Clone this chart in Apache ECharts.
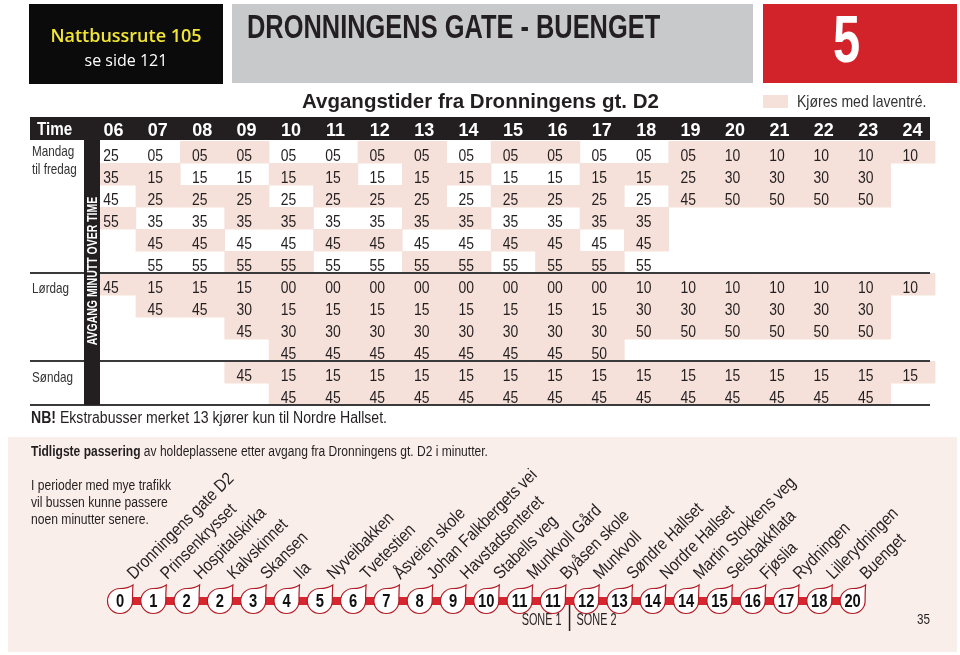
<!DOCTYPE html>
<html><head><meta charset="utf-8">
<script src="https://cdn.jsdelivr.net/npm/echarts@6/dist/echarts.min.js"></script>
<style>html,body{margin:0;padding:0;background:#fff}#c{width:960px;height:655px}</style>
</head><body><div id="c"></div>
<script>
// ---------- DATA ----------
const hours = ['06','07','08','09','10','11','12','13','14','15','16','17','18','19','20','21','22','23','24'];

const weekdayMinutes = [
  ['25','05','05','05','05','05','05','05','05','05','05','05','05','05','10','10','10','10','10'],
  ['35','15','15','15','15','15','15','15','15','15','15','15','15','25','30','30','30','30',''],
  ['45','25','25','25','25','25','25','25','25','25','25','25','25','45','50','50','50','50',''],
  ['55','35','35','35','35','35','35','35','35','35','35','35','35','','','','','',''],
  ['','45','45','45','45','45','45','45','45','45','45','45','45','','','','','',''],
  ['','55','55','55','55','55','55','55','55','55','55','55','55','','','','','','']
];
const saturdayMinutes = [
  ['45','15','15','15','00','00','00','00','00','00','00','00','10','10','10','10','10','10','10'],
  ['','45','45','30','15','15','15','15','15','15','15','15','30','30','30','30','30','30',''],
  ['','','','45','30','30','30','30','30','30','30','30','50','50','50','50','50','50',''],
  ['','','','','45','45','45','45','45','45','45','50','','','','','','','']
];
const sundayMinutes = [
  ['','','','45','15','15','15','15','15','15','15','15','15','15','15','15','15','15','15'],
  ['','','','','45','45','45','45','45','45','45','45','45','45','45','45','45','45','']
];
// 1 = Kjøres med laventré (shaded cell)
const weekdayLowFloor = [
  '0011001101100111111',
  '1100110110011111110',
  '0111011101110111110',
  '1001100110011000000',
  '0110011001101000000',
  '0001100110110000000'
];
const saturdayLowFloor = [
  '1111111111111111111',
  '0111111111111111110',
  '0001111111111111110',
  '0000111111110000000'
];
const sundayLowFloor = [
  '0001111111111111111',
  '0000111111111111110'
];

const stopNames = ['Dronningens gate D2','Prinsenkrysset','Hospitalskirka','Kalvskinnet','Skansen','Ila','Nyveibakken','Tvetestien','Åsveien skole','Johan Falkbergets vei','Havstadsenteret','Stabells veg','Munkvoll Gård','Byåsen skole','Munkvoll','Søndre Hallset','Nordre Hallset','Martin Stokkens veg','Selsbakkflata','Fjøslia','Rydningen','Lillerydningen','Buenget'];
const stopMinutes = [0,1,2,2,3,4,5,6,7,8,9,10,11,11,12,13,14,14,15,16,17,18,20];
const zoneBoundaryAfter = 13; // between Byåsen skole and Munkvoll

// ---------- LAYOUT ----------
const SANS = "'Liberation Sans', Arial, sans-serif";
const PINK = '#f6e1da';
const DARK = '#231f20';
const T = {left: 91.2, top: 141, colW: 44.4, rowH: 22};
const nRows = 12;
const R = {left: 120, step: 33.3, y: 601};

const allMinutes = weekdayMinutes.concat(saturdayMinutes, sundayMinutes);
const allLow = weekdayLowFloor.concat(saturdayLowFloor, sundayLowFloor);
const cells = [];
allMinutes.forEach((row, r) => row.forEach((txt, c) => {
  const low = allLow[r][c] === '1';
  if (txt || low) cells.push({c, r, txt, low});
}));

function label(x, y, text, font, fill, sx, extra) {
  return {type:'text', x:x, y:y, scaleX:sx || 1,
    style:Object.assign({text:text, font:font, fill:fill, align:'left', verticalAlign:'middle'}, extra || {})};
}

const chart = echarts.init(document.getElementById('c'), null, {renderer: 'canvas'});

const sepY = [T.top + 6*T.rowH, T.top + 10*T.rowH, T.top + 12*T.rowH];
const tableRight = 930;
const zoneX = R.left + (zoneBoundaryAfter + 0.5) * R.step;

const graphic = [
  // top boxes
  {type:'rect', shape:{x:29,y:4,width:194,height:80}, style:{fill:'#0b0b0b'}},
  label(126, 37, 'Nattbussrute 105', "600 18px 'Open Sans'", '#f2e633', 1, {align:'center'}),
  label(126, 61, 'se side 121', "500 16px 'Open Sans'", '#ffffff', 1, {align:'center'}),
  {type:'rect', shape:{x:232,y:4,width:521,height:79}, style:{fill:'#c8c9cb'}},
  label(247, 28.5, 'DRONNINGENS GATE - BUENGET', "bold 33px "+SANS, DARK, 0.77),
  {type:'rect', shape:{x:763,y:4,width:194,height:79}, style:{fill:'#d2232a'}},
  label(846.5, 44, '5', "bold 66px "+SANS, '#ffffff', 0.74, {align:'center'}),
  label(302, 102, 'Avgangstider fra Dronningens gt. D2', "bold 20.5px "+SANS, DARK, 1),
  {type:'rect', shape:{x:763,y:95,width:25,height:13}, style:{fill:PINK}},
  label(797, 102, 'Kjøres med laventré.', "16.5px "+SANS, '#333', 0.85),
  // header bar
  {type:'rect', z:-1, shape:{x:30,y:117,width:900,height:23}, style:{fill:DARK}},
  Object.assign(label(37, 130, 'Time', "bold 19px "+SANS, '#fff', 0.8), {z:5}),
  // vertical bar
  {type:'rect', z:50, shape:{x:84,y:140,width:16,height:265}, style:{fill:DARK}},
  {type:'text', z:51, x:92.5, y:271, rotation:Math.PI/2, scaleX:0.7,
   style:{text:'AVGANG MINUTT OVER TIME', font:"bold 15px "+SANS, fill:'#fff', align:'center', verticalAlign:'middle'}},
  // row group labels
  label(32, 152, 'Mandag', "15px "+SANS, '#333', 0.78),
  label(32, 170, 'til fredag', "15px "+SANS, '#333', 0.78),
  label(32, 289, 'Lørdag', "15px "+SANS, '#333', 0.78),
  label(32, 378, 'Søndag', "15px "+SANS, '#333', 0.78),
  // NB
  label(31, 419, '{b|NB!} Ekstrabusser merket 13 kjører kun til Nordre Hallset.', "16px "+SANS, DARK, 0.88,
        {rich:{b:{fontWeight:'bold', fontSize:16, fontFamily:SANS, fill:DARK}}}),
  // bottom panel
  {type:'rect', z:-10, shape:{x:8,y:437,width:949,height:215}, style:{fill:'#faeeea'}},
  label(31, 452, '{b|Tidligste passering} av holdeplassene etter avgang fra Dronningens gt. D2 i minutter.', "14px "+SANS, DARK, 0.86,
        {rich:{b:{fontWeight:'bold', fontSize:14, fontFamily:SANS, fill:DARK}}}),
  label(31, 486, 'I perioder med mye trafikk', "14px "+SANS, DARK, 0.865),
  label(31, 503, 'vil bussen kunne passere', "14px "+SANS, DARK, 0.865),
  label(31, 520, 'noen minutter senere.', "14px "+SANS, DARK, 0.865),
  {type:'line', shape:{x1:zoneX,y1:603,x2:zoneX,y2:631}, style:{stroke:DARK, lineWidth:1.5}},
  label(zoneX-8, 621, 'SONE 1', "16px "+SANS, DARK, 0.68, {align:'right'}),
  label(zoneX+7, 621, 'SONE 2', "16px "+SANS, DARK, 0.68),
  label(930, 620, '35', "15px "+SANS, DARK, 0.78, {align:'right'})
];
sepY.forEach(y => graphic.push({type:'line', z:40, shape:{x1:30,y1:y,x2:tableRight,y2:y}, style:{stroke:'#3a3a3a', lineWidth:2}}));

const dropPath = 'M0 -12.5 C5 -12.5 9.5 -13.5 13 -16 C12.5 -10 12.5 -5 12.5 0 A12.5 12.5 0 1 1 0 -12.5 Z';

chart.setOption({
  animation: false,
  backgroundColor: '#ffffff',
  graphic: graphic,
  grid: [
    {left: T.left, top: T.top, width: T.colW*hours.length, height: T.rowH*nRows, containLabel:false},
    {left: R.left, top: R.y-10, width: R.step*(stopNames.length-1), height: 20, containLabel:false}
  ],
  xAxis: [
    {gridIndex:0, type:'category', data:hours, position:'top', boundaryGap:true,
     axisLine:{show:false}, axisTick:{show:false}, splitLine:{show:false},
     axisLabel:{color:'#fff', fontFamily:SANS, fontWeight:'bold', fontSize:18, margin:1}},
    {gridIndex:1, type:'category', data:stopNames, boundaryGap:false, show:false}
  ],
  yAxis: [
    {gridIndex:0, type:'category', data:allMinutes.map((_, i) => 'r'+i), inverse:true, show:false},
    {gridIndex:1, type:'value', min:-1, max:1, show:false}
  ],
  series: [
    {
      type:'custom', xAxisIndex:0, yAxisIndex:0, z:3,
      data: cells.map(d => [d.c, d.r]),
      encode:{x:0, y:1},
      renderItem: function(params, api){
        const d = cells[params.dataIndex];
        const p = api.coord([api.value(0), api.value(1)]);
        const s = api.size([1,1]);
        const ch = [];
        if (d.low) ch.push({type:'rect', shape:{x:p[0]-s[0]/2, y:p[1]-s[1]/2, width:s[0]+0.6, height:s[1]+0.6}, style:{fill:PINK}});
        if (d.txt) ch.push({type:'text', x:p[0]-s[0]/2+12, y:p[1]+4, scaleX:0.82,
          style:{x:0, y:0, text:d.txt, font:"17px "+SANS, fill:DARK, align:'left', verticalAlign:'middle'}});
        return {type:'group', children:ch};
      }
    },
    {
      type:'line', xAxisIndex:1, yAxisIndex:1, z:3,
      data: stopNames.map(() => 0), symbol:'none',
      lineStyle:{color:'#d7262f', width:8}
    },
    {
      type:'custom', xAxisIndex:1, yAxisIndex:1, z:5,
      data: stopNames.map((n, i) => [i, 0]),
      encode:{x:0, y:1},
      renderItem: function(params, api){
        const i = params.dataIndex;
        const p = api.coord([api.value(0), 0]);
        return {type:'group', children:[
          {type:'path', x:p[0], y:p[1], shape:{pathData:dropPath}, style:{fill:'#ffffff', stroke:'#b01c24', lineWidth:1.2}},
          {type:'text', x:p[0], y:p[1]+1, scaleX:0.82, style:{x:0, y:0, text:String(stopMinutes[i]), font:"bold 18px "+SANS, fill:'#111', align:'center', verticalAlign:'middle'}},
          {type:'text', x:p[0]+17, y:p[1]-18, rotation:Math.PI/4, scaleX:0.86, style:{x:0, y:0, text:stopNames[i], font:"17.5px "+SANS, fill:DARK, align:'left', verticalAlign:'bottom'}}
        ]};
      }
    }
  ]
});
</script></body></html>
